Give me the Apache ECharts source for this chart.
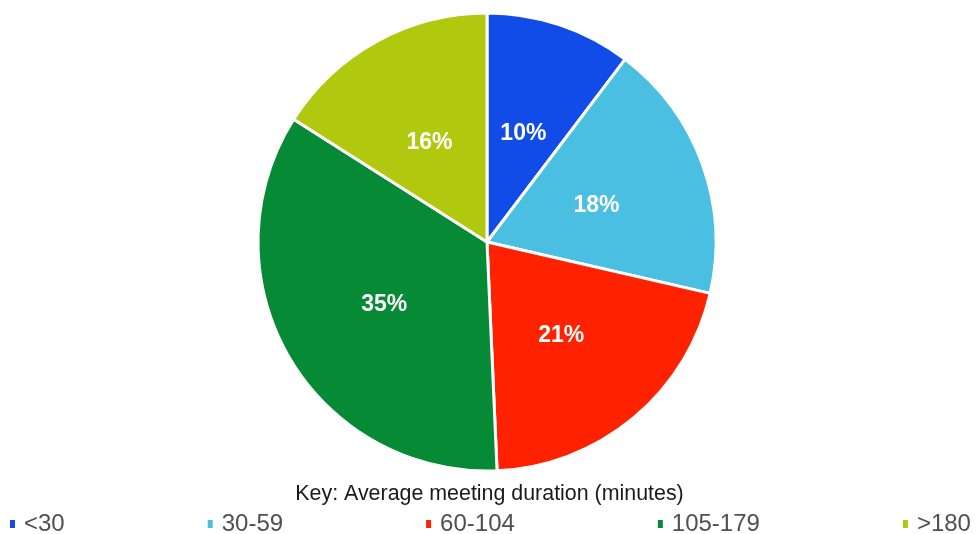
<!DOCTYPE html>
<html><head><meta charset="utf-8">
<script src="https://cdn.jsdelivr.net/npm/echarts@6/dist/echarts.min.js"></script>
<style>html,body{margin:0;padding:0;background:#fff}#c{width:979px;height:534px}</style>
</head><body><div id="c"></div>
<script>
const categories = ['<30', '30-59', '60-104', '105-179', '>180'];
const values = [10.3, 18.3, 20.7, 34.7, 16.0];
const colors = ['#114CE8', '#4ABFE2', '#FF2200', '#078A36', '#B0C80E'];
const keyTitle = 'Key: Average meeting duration (minutes)';

const chart = echarts.init(document.getElementById('c'));
chart.setOption({
  animation: false,
  color: colors,
  title: {
    text: keyTitle, left: 'center', top: 484, padding: 0,
    textStyle: {fontFamily: 'Liberation Sans, Arial, sans-serif', fontSize: 21.4, fontWeight: 'normal', color: '#1a1a1a'}
  },
  legend: {
    data: categories, left: 8, top: 512, itemGap: 141, itemWidth: 7, itemHeight: 10,
    icon: 'rect', padding: 0,
    textStyle: {fontFamily: 'Liberation Sans, Arial, sans-serif', fontSize: 24, color: '#505050', padding: [0,0,0,3]}
  },
  series: [{
    type: 'pie', center: [487, 242], radius: [0, 229], startAngle: 90, clockwise: true,
    data: categories.map((c, i) => ({name: c, value: values[i]})),
    itemStyle: {borderColor: '#fff', borderWidth: 3},
    label: {
      position: 'inside', color: '#fff', fontWeight: 'bold', fontSize: 23,
      fontFamily: 'Liberation Sans, Arial, sans-serif',
      offset: [-1, 3.5],
      formatter: p => Math.round(p.percent) + '%'
    },
    labelLine: {show: false},
    emphasis: {disabled: true}
  }]
});
</script></body></html>
